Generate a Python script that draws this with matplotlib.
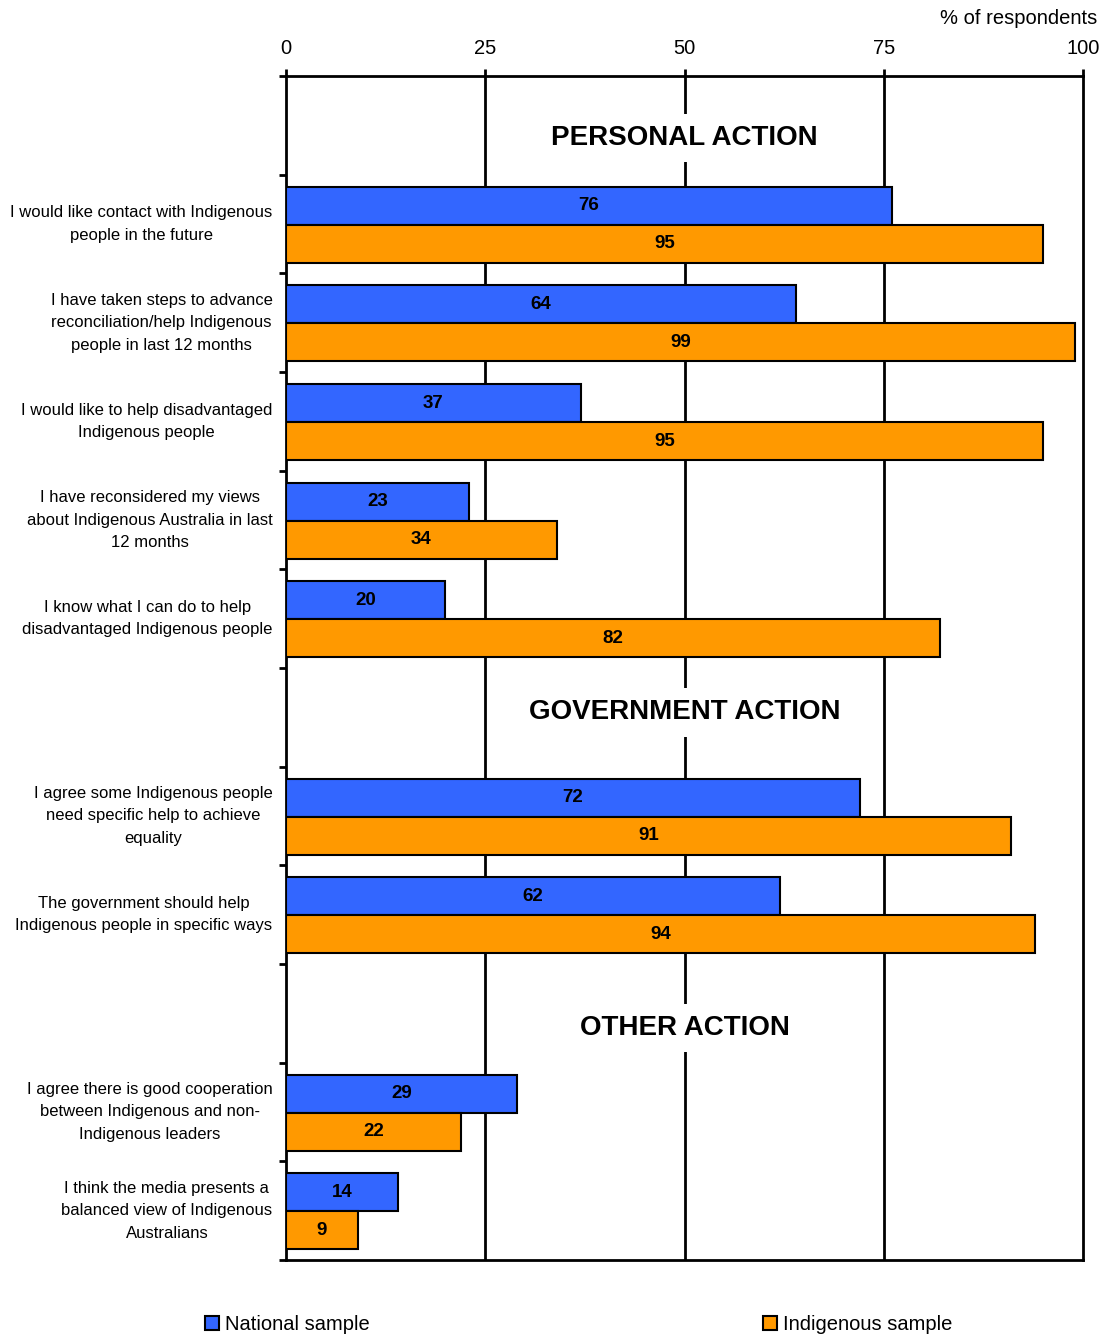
import numpy as np
import matplotlib.pyplot as plt
from matplotlib.patches import Patch

plt.rcParams['font.family'] = ['Liberation Sans', 'DejaVu Sans']

# survey items, grouped by section (None = section heading row)
sections = ["PERSONAL ACTION", "GOVERNMENT ACTION", "OTHER ACTION"]
personal_items = [
    "I would like contact with Indigenous\npeople in the future",
    "I have taken steps to advance\nreconciliation/help Indigenous\npeople in last 12 months",
    "I would like to help disadvantaged\nIndigenous people",
    "I have reconsidered my views\nabout Indigenous Australia in last\n12 months",
    "I know what I can do to help\ndisadvantaged Indigenous people",
]
government_items = [
    "I agree some Indigenous people\nneed specific help to achieve\nequality",
    "The government should help\nIndigenous people in specific ways",
]
other_items = [
    "I agree there is good cooperation\nbetween Indigenous and non-\nIndigenous leaders",
    "I think the media presents a\nbalanced view of Indigenous\nAustralians",
]
national = [76, 64, 37, 23, 20, 72, 62, 29, 14]
indigenous = [95, 99, 95, 34, 82, 91, 94, 22, 9]

blue = '#3366FF'
orange = '#FF9900'

# lay out rows: one heading row per section, then its items
rows = []
heading_rows = []
for title, items in zip(sections, [personal_items, government_items, other_items]):
    heading_rows.append((len(rows), title))
    rows.append(None)
    rows.extend(items)

item_pos = np.array([i for i, r in enumerate(rows) if r is not None])
item_labels = [r for r in rows if r is not None]

fig = plt.figure(figsize=(11.05, 13.36), dpi=100)
ax = fig.add_axes([0.2588, 0.0569, 0.7214, 0.8862])

h = 0.385
ax.barh(item_pos + 0.315, national, height=h, color=blue, edgecolor='black', linewidth=1.5, zorder=3)
ax.barh(item_pos + 0.70, indigenous, height=h, color=orange, edgecolor='black', linewidth=1.5, zorder=3)

for y, v in zip(item_pos, national):
    ax.text(v / 2, y + 0.315, str(v), ha='center', va='center', fontsize=13.5, fontweight='bold', zorder=4)
for y, v in zip(item_pos, indigenous):
    ax.text(v / 2, y + 0.70, str(v), ha='center', va='center', fontsize=13.5, fontweight='bold', zorder=4)

# category labels, centred lines, right edge next to the axis
for y, lab in zip(item_pos, item_labels):
    ax.text(-1.7, y + 0.5, lab, ha='right', va='center', multialignment='center',
            fontsize=12, linespacing=1.62)

heading_offsets = [0.63, 0.45, 0.65]
for (r, title), off in zip(heading_rows, heading_offsets):
    ax.text(50, r + off, title, ha='center', va='center', fontsize=20, fontweight='bold',
            zorder=2, bbox=dict(facecolor='white', edgecolor='none', pad=8))

for x in [25, 50, 75]:
    ax.axvline(x, color='black', linewidth=2, zorder=1)

ax.set_xlim(0, 100)
ax.set_ylim(len(rows), 0)
ax.set_xticks([0, 25, 50, 75, 100])
ax.xaxis.tick_top()
ax.tick_params(axis='x', labelsize=14.5, length=5, width=2, pad=8, direction='out')
ax.set_yticks(np.arange(len(rows) + 1))
ax.set_yticklabels([])
ax.tick_params(axis='y', length=5, width=2, direction='out')
for s in ax.spines.values():
    s.set_linewidth(2)

fig.text(0.9932, 0.9865, "% of respondents", ha='right', va='center', fontsize=14.5)

handles = [Patch(facecolor=blue, edgecolor='black', linewidth=1.5, label='National sample'),
           Patch(facecolor=orange, edgecolor='black', linewidth=1.5, label='Indigenous sample')]
fig.legend(handles=handles, loc='center left', bbox_to_anchor=(0.1780, 0.0085), ncol=2,
           frameon=False, fontsize=14.5, handlelength=0.7, handleheight=0.7,
           handletextpad=0.3, columnspacing=19.55, borderaxespad=0)

fig.savefig('out.png', dpi=100)
